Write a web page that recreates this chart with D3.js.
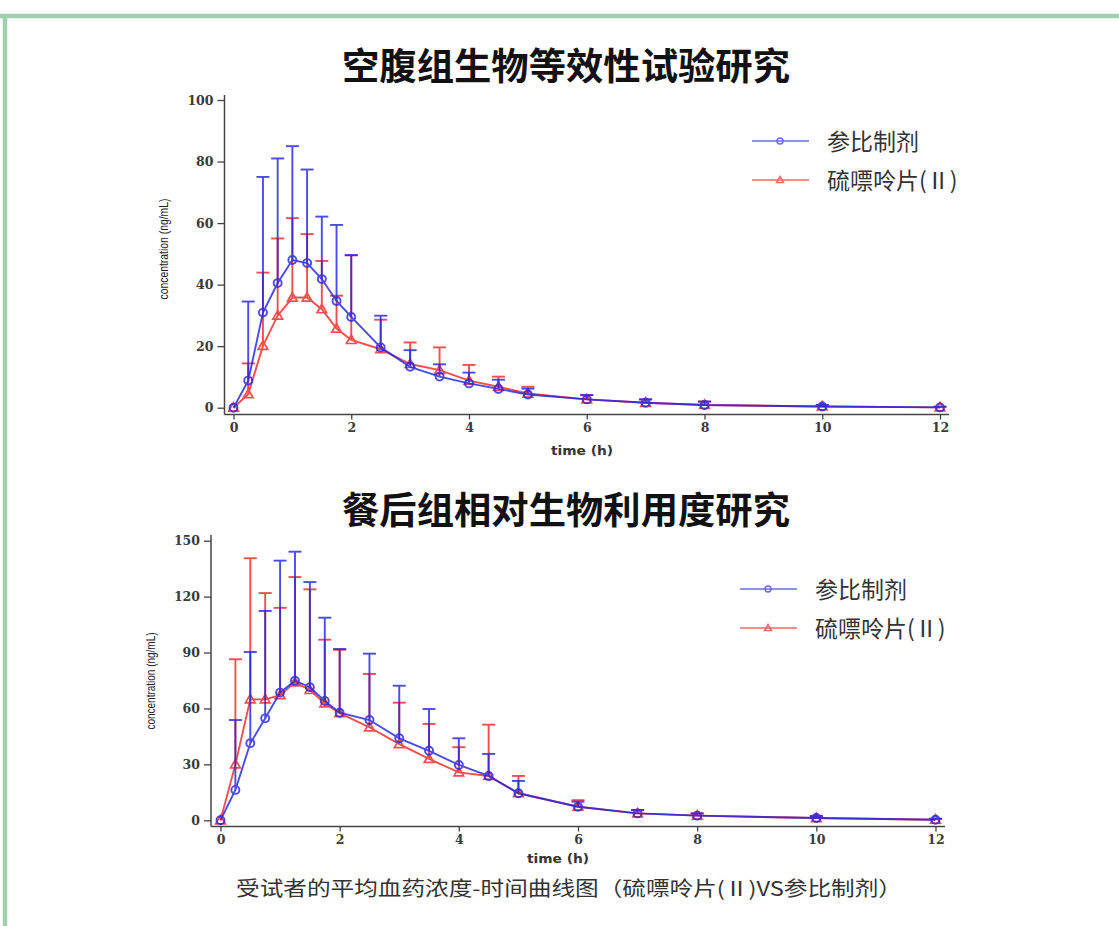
<!DOCTYPE html>
<html><head><meta charset="utf-8">
<script src="https://cdn.jsdelivr.net/npm/d3@7/dist/d3.min.js"></script>
<style>html,body{margin:0;padding:0;background:#fff;}svg{display:block;}</style>
</head><body>
<svg id="c" width="1119" height="926"></svg>
<script>
// ---------- DATA ----------
const times = [0,0.25,0.5,0.75,1,1.25,1.5,1.75,2,2.5,3,3.5,4,4.5,5,6,7,8,10,12];
const xTicks = [0,2,4,6,8,10,12];

const seriesNames = ["参比制剂", "硫嘌呤片(Ⅱ)"];

// Fasting study (top)
const fastTitle = "空腹组生物等效性试验研究";
const fastYTicks = [0,20,40,60,80,100];
const fastRefMean  = [0,8.8,30.9,40.5,48,47,41.8,34.7,29.5,19.6,13.3,10.1,7.9,6.1,4.3,2.7,1.6,0.9,0.4,0.1];
const fastRefSD    = [0,25.7,44.1,40.5,37,30.4,20.3,24.7,20.1,10.3,5.4,4.0,3.5,3.0,1.9,1.4,1.1,1.1,0.5,0.2];
const fastTestMean = [0,4.4,20.1,29.9,35.8,35.8,32,25.7,22,19,14.2,12.2,8.8,6.8,4.6,2.7,1.6,0.9,0.4,0.1];
const fastTestSD   = [0,10,23.8,25.1,25.8,20.6,15.7,10.7,27.5,9.6,7,7.4,5.1,3.3,2.2,1.4,1.1,1.1,0.5,0.2];

// Fed study (bottom)
const fedTitle = "餐后组相对生物利用度研究";
const fedYTicks = [0,30,60,90,120,150];
const fedRefMean  = [0,16.3,41.3,54.7,68.5,74.9,71.4,64,57.7,53.8,44,37.3,29.7,23.8,14.5,7.3,3.7,2.5,1.2,0.3];
const fedRefSD    = [0,37.5,49,57.6,70.8,69.2,56.4,44.7,34.2,35.6,28.2,22.4,14.3,11.8,6.6,2.7,1.8,1.2,1.1,0.5];
const fedTestMean = [0,30,64.9,64.9,67.2,74,69.9,62.7,57.5,49.9,40.9,32.9,25.7,23.8,14.5,7.3,3.7,2.5,1.2,0.3];
const fedTestSD   = [0,56.4,75.7,57,46.8,56.5,54,34.2,34,28.6,22.2,18.8,13.5,27.5,9.3,3.5,1.8,1.2,1.1,0.5];

const xLabel = "time (h)";
const yLabel = "concentration (ng/mL)";
const caption = "受试者的平均血药浓度-时间曲线图（硫嘌呤片(Ⅱ)VS参比制剂）";

// ---------- DRAW ----------
const svg = d3.select("#c");
const CJK = "'Noto Sans CJK SC','Noto Sans',sans-serif";
const BLUE = "#2424e2", RED = "#ee2828";
const LBLUE = "#6b6bee", LRED = "#f06868";

// green frame
svg.append("line").attr("x1",0).attr("x2",1119).attr("y1",16).attr("y2",16)
  .attr("stroke","#9fd0ae").attr("stroke-width",4.5);
svg.append("line").attr("x1",5).attr("x2",5).attr("y1",14).attr("y2",926)
  .attr("stroke","#9fd0ae").attr("stroke-width",4.5);

function drawChart(cfg){
  const g = svg.append("g");
  const x = d3.scaleLinear().domain([0,12]).range(cfg.xr);
  const y = d3.scaleLinear().domain(cfg.yd).range(cfg.yr);

  g.append("text").attr("x",566).attr("y",cfg.titleY).attr("text-anchor","middle")
    .attr("font-family",CJK).attr("font-weight","bold").attr("font-size",37)
    .attr("textLength",448).attr("lengthAdjust","spacingAndGlyphs")
    .attr("fill","#111").text(cfg.title);

  // axes
  const yA = g.append("g").attr("transform",`translate(${cfg.axX},0)`)
    .call(d3.axisLeft(y).tickValues(cfg.yTicks).tickSize(7).tickPadding(4).tickSizeOuter(0));
  const xA = g.append("g").attr("transform",`translate(0,${cfg.axY})`)
    .call(d3.axisBottom(x).tickValues(xTicks).tickSize(5).tickPadding(4).tickSizeOuter(0));
  [yA,xA].forEach(a=>{
    a.select(".domain").remove();
    a.selectAll("line").attr("stroke","#444").attr("stroke-width",1.3);
    a.selectAll("text").attr("font-family","'DejaVu Serif',serif").attr("font-weight","bold")
      .attr("font-size",12.5).attr("fill","#3a3a3a");
  });
  g.append("line").attr("x1",cfg.axX).attr("x2",cfg.axX).attr("y1",cfg.axTop).attr("y2",cfg.axY)
    .attr("stroke","#444").attr("stroke-width",1.5);
  g.append("line").attr("x1",cfg.axX).attr("x2",cfg.axRight).attr("y1",cfg.axY).attr("y2",cfg.axY)
    .attr("stroke","#444").attr("stroke-width",1.5);

  g.append("text").attr("transform",`translate(${cfg.ylX},${cfg.ylY}) rotate(-90)`)
    .attr("text-anchor","middle").attr("font-family","'Liberation Sans',Arial,sans-serif")
    .attr("font-size",13).attr("textLength",cfg.ylLen).attr("lengthAdjust","spacingAndGlyphs")
    .attr("fill","#222").text(yLabel);
  g.append("text").attr("x",cfg.xlX).attr("y",cfg.xlY).attr("text-anchor","middle")
    .attr("font-family","'DejaVu Sans',sans-serif").attr("font-weight","bold")
    .attr("font-size",12).attr("textLength",62).attr("lengthAdjust","spacingAndGlyphs")
    .attr("fill","#333").text(xLabel);

  const series = [
    {mean:cfg.test, sd:cfg.testSD, color:RED, shape:"tri"},
    {mean:cfg.ref, sd:cfg.refSD, color:BLUE, shape:"circ"}
  ];
  series.forEach(s=>{
    const sg = g.append("g").attr("opacity",0.82);
    const pts = times.map((t,i)=>({t, m:s.mean[i], u:s.mean[i]+s.sd[i]}));
    pts.forEach(p=>{
      if (p.u - p.m <= 0) return;
      sg.append("line").attr("x1",x(p.t)).attr("x2",x(p.t)).attr("y1",y(p.m)).attr("y2",y(p.u))
        .attr("stroke",s.color).attr("stroke-width",1.9);
      sg.append("line").attr("x1",x(p.t)-6.5).attr("x2",x(p.t)+6.5).attr("y1",y(p.u)).attr("y2",y(p.u))
        .attr("stroke",s.color).attr("stroke-width",1.9);
    });
    sg.append("path").datum(pts)
      .attr("d",d3.line().x(p=>x(p.t)).y(p=>y(p.m)))
      .attr("fill","none").attr("stroke",s.color).attr("stroke-width",1.9);
    pts.forEach(p=>{
      if (s.shape==="circ"){
        sg.append("circle").attr("cx",x(p.t)).attr("cy",y(p.m)).attr("r",4)
          .attr("fill","none").attr("stroke",s.color).attr("stroke-width",1.9);
      } else {
        sg.append("path").attr("transform",`translate(${x(p.t)},${y(p.m)})`)
          .attr("d","M0,-5L4.8,3.5L-4.8,3.5Z")
          .attr("fill","none").attr("stroke",s.color).attr("stroke-width",1.7);
      }
    });
  });

  // legend
  const lg = g.append("g");
  [[LBLUE,"circ"],[LRED,"tri"]].forEach((d,i)=>{
    const ly = cfg.legY + i*39;
    lg.append("line").attr("x1",cfg.legX).attr("x2",cfg.legX+57).attr("y1",ly).attr("y2",ly)
      .attr("stroke",d[0]).attr("stroke-width",1.6);
    if (d[1]==="circ") lg.append("circle").attr("cx",cfg.legX+28).attr("cy",ly).attr("r",3)
      .attr("fill","none").attr("stroke",d[0]).attr("stroke-width",1.5);
    else lg.append("path").attr("transform",`translate(${cfg.legX+28},${ly})`)
      .attr("d","M0,-3.5L3.5,2.5L-3.5,2.5Z").attr("fill","none").attr("stroke",d[0]).attr("stroke-width",1.5);
    lg.append("text").attr("x",cfg.legX+75).attr("y",ly+9).attr("font-family",CJK)
      .attr("font-size",23).attr("fill","#333").text(seriesNames[i]);
  });
}

drawChart({title:fastTitle, titleY:80, xr:[233.5,940], yd:[0,100], yr:[407.7,100],
  yTicks:fastYTicks, axX:224.5, axY:414.5, axTop:95, axRight:949,
  ylX:168, ylY:249, ylLen:101, xlX:582, xlY:455,
  ref:fastRefMean, refSD:fastRefSD, test:fastTestMean, testSD:fastTestSD,
  legX:752, legY:141});

drawChart({title:fedTitle, titleY:524, xr:[220.5,935.5], yd:[0,150], yr:[820.3,540.7],
  yTicks:fedYTicks, axX:211, axY:826.5, axTop:535, axRight:945,
  ylX:155, ylY:681, ylLen:97, xlX:558, xlY:863,
  ref:fedRefMean, refSD:fedRefSD, test:fedTestMean, testSD:fedTestSD,
  legX:740, legY:589});

svg.append("text").attr("x",569).attr("y",896).attr("text-anchor","middle")
  .attr("font-family",CJK).attr("font-size",20).attr("fill","#333")
  .attr("textLength",666).attr("lengthAdjust","spacingAndGlyphs").text(caption);
</script>
</body></html>
